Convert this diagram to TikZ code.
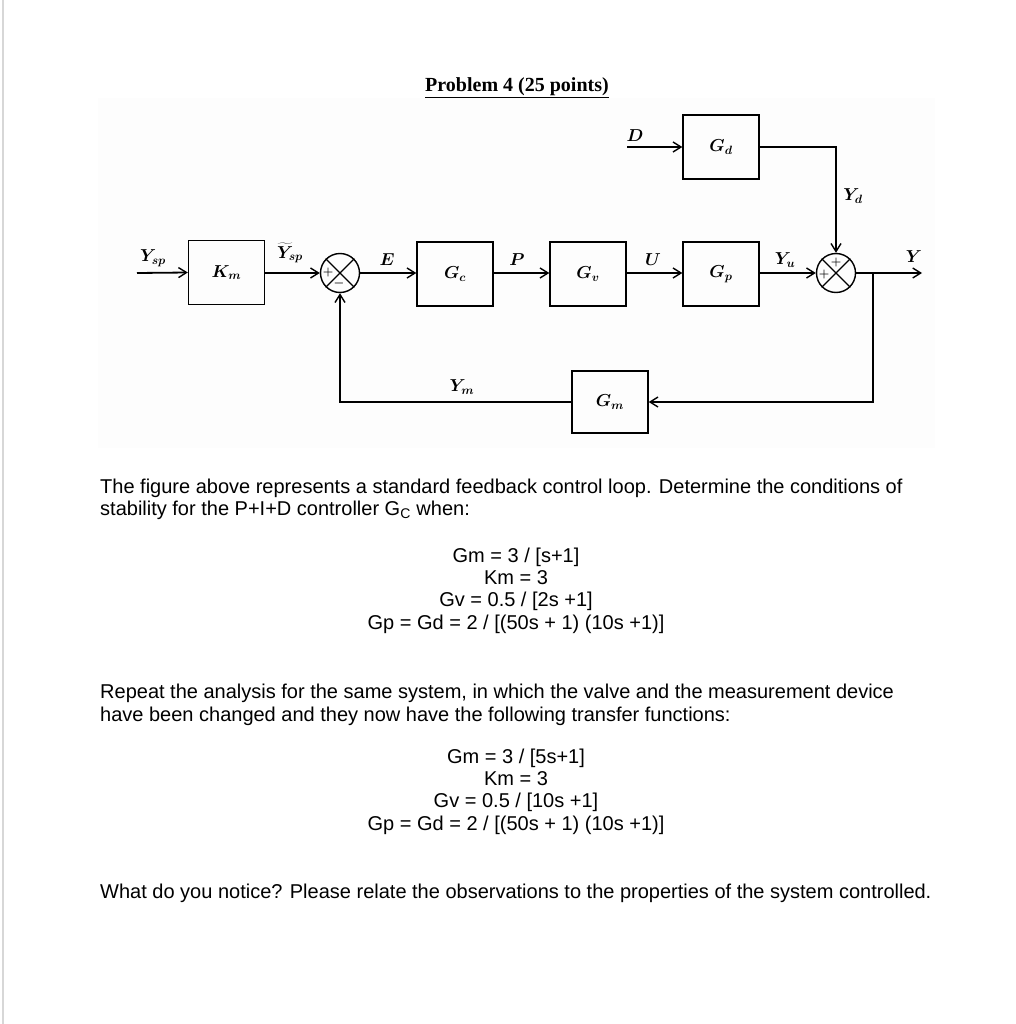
\documentclass[tikz,border=0pt]{standalone}
\usepackage{fontspec}
\setmainfont{Liberation Sans}
\newfontfamily\timesfont{Liberation Serif}
\usetikzlibrary{arrows.meta}
\definecolor{figbg}{RGB}{253,253,253}
\definecolor{edgegray}{RGB}{215,215,215}
\begin{document}
\begin{tikzpicture}[x=1pt,y=-1pt,
  blk/.style={draw, line width=1.4pt, minimum width=76pt, minimum height=64pt, inner sep=0pt, font=\fontsize{18}{21}\selectfont\boldmath},
  sig/.style={line width=1.8pt, -{Straight Barb[length=8pt,width=10pt,line width=1.4pt]}},
  lbl/.style={inner sep=0pt, font=\fontsize{18}{21}\selectfont\boldmath},
  sumj/.style={draw, circle, line width=1.4pt, minimum size=39pt, inner sep=0pt},
  sgn/.style={inner sep=0pt, font=\fontsize{13}{14}\selectfont\boldmath},
  txt/.style={anchor=base west, inner sep=0pt, font=\fontsize{20}{23}\selectfont},
  eqn/.style={anchor=base, inner sep=0pt, font=\fontsize{20}{23}\selectfont}]
% canvas
\fill[white] (0,0) rectangle (1015,1024);
\useasboundingbox (0,0) rectangle (1015,1024);
\fill[edgegray] (2,0) rectangle (4,1024);
\fill[figbg] (98,98) rectangle (935,448);
% title
\node[inner sep=0pt] (title) at (517,88) {\timesfont\bfseries\fontsize{20}{23}\selectfont\underline{Problem 4 (25 points)}};
% blocks
\node[blk] (Km) at (226.5,272.5) {$K_m$};
\node[blk] (Gc) at (455,274) {$G_c$};
\node[blk] (Gv) at (588,274) {$G_v$};
\node[blk] (Gp) at (721,274) {$G_p$};
\node[blk] (Gd) at (721,147) {$G_d$};
\node[blk, minimum height=62pt] (Gm) at (610,402) {$G_m$};
\node[sumj] (s1) at (340,273) {};
\node[sumj] (s2) at (836,273) {};
\draw[line width=1.1pt] (s1.45) -- (s1.225) (s1.135) -- (s1.315);
\draw[line width=1.1pt] (s2.45) -- (s2.225) (s2.135) -- (s2.315);
\node[sgn] (s1p) at (328,272) {$+$};
\node[sgn] (s1m) at (339,283) {$-$};
\node[sgn] (s2t) at (836,262) {$+$};
\node[sgn] (s2l) at (824,274) {$+$};
% coordinates
\coordinate (yin) at (137,273);
\coordinate (din) at (627,147);
\coordinate (gdc) at (836,147);
\coordinate (yout) at (922,273);
\coordinate (br) at (873,273);
\coordinate (brd) at (873,402);
\coordinate (fbl) at (340,402);
% connectors
\draw[sig] (yin) -- (Km.west);
\draw[sig] (Km.east |- s1) -- (s1.west);
\draw[sig] (s1.east) -- (Gc.west |- s1);
\draw[sig] (Gc.east |- s1) -- (Gv.west |- s1);
\draw[sig] (Gv.east |- s1) -- (Gp.west |- s1);
\draw[sig] (Gp.east |- s1) -- (s2.west);
\draw[sig] (din) -- (Gd.west);
\draw[sig] (Gd.east) -- (gdc) -- (s2.north);
\draw[sig] (s2.east) -- (yout);
\draw[sig] (br) -- (brd) -- (Gm.east);
\draw[sig] (Gm.west) -- (fbl) -- (s1.south);
% labels
\node[lbl] (lysp) at (153,258) {$Y_{sp}$};
\node[lbl] (lytsp) at (290,253) {$\widetilde{Y}_{sp}$};
\node[lbl] (lE) at (387,260) {$E$};
\node[lbl] (lP) at (517,260) {$P$};
\node[lbl] (lU) at (653,260) {$U$};
\node[lbl] (lYu) at (785,260) {$Y_u$};
\node[lbl] (lD) at (635,136) {$D$};
\node[lbl] (lYd) at (853,196) {$Y_d$};
\node[lbl] (lY) at (914,257) {$Y$};
\node[lbl] (lYm) at (462,387) {$Y_m$};
% text
\node[txt] (t1) at (100,493) {The figure above represents a standard feedback control loop. Determine the conditions of};
\node[txt] (t2) at (100,515) {stability for the P+I+D controller G\textsubscript{C} when:};
\node[eqn] (e1) at (516,562) {Gm = 3 / [s+1]};
\node[eqn] (e2) at (516,584) {Km = 3};
\node[eqn] (e3) at (516,606) {Gv = 0.5 / [2s +1]};
\node[eqn] (e4) at (516,629) {Gp = Gd = 2 / [(50s + 1) (10s +1)]};
\node[txt] (t3) at (100,698) {Repeat the analysis for the same system, in which the valve and the measurement device};
\node[txt] (t4) at (100,721) {have been changed and they now have the following transfer functions:};
\node[eqn] (f1) at (516,763) {Gm = 3 / [5s+1]};
\node[eqn] (f2) at (516,785) {Km = 3};
\node[eqn] (f3) at (516,807) {Gv = 0.5 / [10s +1]};
\node[eqn] (f4) at (516,830) {Gp = Gd = 2 / [(50s + 1) (10s +1)]};
\node[txt] (t5) at (100,898) {What do you notice? Please relate the observations to the properties of the system controlled.};
\end{tikzpicture}
\end{document}
